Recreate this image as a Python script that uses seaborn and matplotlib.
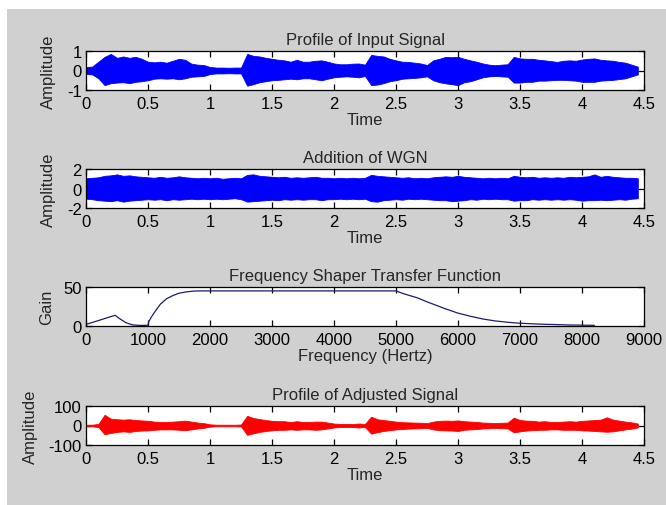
import seaborn as sns
import matplotlib.pyplot as plt
import pandas as pd
import numpy as np
from matplotlib.patches import Rectangle

# sample times of the envelopes (seconds), one value every 0.05 s
time = np.round(np.arange(0, 4.46, 0.05), 2)

# Profile of Input Signal - upper / lower envelope
input_upper = [0.18, 0.2, 0.45, 0.7, 0.85, 0.65, 0.72, 0.65, 0.7, 0.6,
               0.45, 0.42, 0.45, 0.4, 0.5, 0.6, 0.55, 0.35, 0.3, 0.28,
               0.18, 0.15, 0.15, 0.14, 0.15, 0.15, 0.85, 0.75, 0.72, 0.65,
               0.6, 0.55, 0.52, 0.45, 0.55, 0.45, 0.45, 0.5, 0.52, 0.45,
               0.36, 0.32, 0.32, 0.35, 0.36, 0.3, 0.8, 0.75, 0.72, 0.6,
               0.52, 0.45, 0.44, 0.4, 0.36, 0.28, 0.52, 0.6, 0.7, 0.68,
               0.7, 0.6, 0.52, 0.45, 0.36, 0.3, 0.27, 0.3, 0.32, 0.7,
               0.62, 0.6, 0.6, 0.55, 0.52, 0.48, 0.44, 0.5, 0.52, 0.5,
               0.56, 0.6, 0.62, 0.55, 0.52, 0.5, 0.44, 0.4, 0.3, 0.2]
input_lower = [-0.18, -0.2, -0.4, -0.75, -0.65, -0.62, -0.6, -0.65, -0.58, -0.55,
               -0.5, -0.42, -0.4, -0.42, -0.4, -0.45, -0.4, -0.32, -0.3, -0.28,
               -0.18, -0.15, -0.15, -0.14, -0.15, -0.15, -0.78, -0.7, -0.6, -0.55,
               -0.5, -0.48, -0.45, -0.42, -0.45, -0.4, -0.4, -0.45, -0.5, -0.42,
               -0.35, -0.32, -0.3, -0.32, -0.35, -0.28, -0.75, -0.72, -0.65, -0.55,
               -0.5, -0.42, -0.4, -0.38, -0.35, -0.3, -0.5, -0.6, -0.66, -0.7,
               -0.75, -0.6, -0.55, -0.45, -0.35, -0.3, -0.28, -0.3, -0.32, -0.62,
               -0.62, -0.58, -0.58, -0.52, -0.52, -0.5, -0.48, -0.48, -0.5, -0.52,
               -0.58, -0.58, -0.58, -0.52, -0.5, -0.48, -0.44, -0.4, -0.3, -0.2]

# Addition of WGN - envelope
wgn_upper = [1.05, 1.1, 1.15, 1.3, 1.35, 1.45, 1.3, 1.35, 1.25, 1.2,
             1.15, 1.1, 1.2, 1.1, 1.15, 1.25, 1.15, 1.1, 1.05, 1.1,
             1.05, 1.1, 1.0, 1.05, 1.1, 1.05, 1.4, 1.45, 1.3, 1.25,
             1.2, 1.15, 1.2, 1.1, 1.15, 1.1, 1.15, 1.2, 1.1, 1.1,
             1.05, 1.1, 1.05, 1.1, 1.05, 1.1, 1.4, 1.3, 1.25, 1.2,
             1.15, 1.1, 1.15, 1.05, 1.1, 1.05, 1.15, 1.2, 1.25, 1.2,
             1.3, 1.2, 1.15, 1.1, 1.05, 1.1, 1.05, 1.1, 1.05, 1.3,
             1.2, 1.15, 1.2, 1.1, 1.15, 1.1, 1.15, 1.1, 1.2, 1.15,
             1.2, 1.25, 1.45, 1.2, 1.3, 1.2, 1.15, 1.1, 1.1, 1.05]
wgn_lower = [-1.05, -1.1, -1.2, -1.25, -1.3, -1.2, -1.35, -1.25, -1.2, -1.15,
             -1.1, -1.15, -1.1, -1.2, -1.1, -1.15, -1.1, -1.05, -1.1, -1.05,
             -1.1, -1.05, -1.1, -1.05, -1.0, -1.1, -1.35, -1.3, -1.25, -1.2,
             -1.15, -1.2, -1.1, -1.15, -1.1, -1.15, -1.1, -1.1, -1.2, -1.1,
             -1.1, -1.05, -1.1, -1.05, -1.1, -1.05, -1.3, -1.35, -1.2, -1.15,
             -1.1, -1.15, -1.05, -1.1, -1.05, -1.1, -1.15, -1.2, -1.2, -1.3,
             -1.25, -1.2, -1.1, -1.15, -1.05, -1.1, -1.05, -1.1, -1.1, -1.25,
             -1.2, -1.2, -1.1, -1.15, -1.1, -1.15, -1.1, -1.15, -1.1, -1.15,
             -1.25, -1.2, -1.2, -1.15, -1.2, -1.15, -1.1, -1.15, -1.05, -1.0]

# Frequency Shaper Transfer Function
freq_hz = [0, 100, 200, 300, 400, 470, 550, 650, 750, 850, 950, 1000, 1010,
           1050, 1100, 1200, 1300, 1400, 1500, 1600, 1700, 1800, 2000, 3000,
           4000, 5000, 5100, 5200, 5350, 5500, 5650, 5800, 6000, 6200, 6400,
           6600, 6800, 7000, 7200, 7400, 7600, 7800, 8000, 8200]
gain = [2, 4.5, 7, 9.5, 12, 13.7, 9, 4, 1.5, 0.8, 0.8, 1, 5,
        11, 17, 28, 35, 39, 42, 43.5, 44.5, 45, 45, 45,
        45, 45, 42, 39.5, 36, 31, 26.5, 22, 16.5, 12.5, 9,
        6.5, 4.8, 3.5, 2.8, 2.2, 1.8, 1.3, 1.1, 0.8]

# Profile of Adjusted Signal - envelope
adj_upper = [4, 4, 8, 55, 35, 32, 30, 32, 28, 26,
             24, 20, 18, 18, 20, 22, 25, 20, 15, 12,
             6, 4, 4, 4, 4, 5, 50, 38, 33, 28,
             24, 22, 22, 18, 22, 18, 18, 20, 20, 15,
             10, 8, 8, 8, 10, 8, 45, 32, 28, 24,
             20, 17, 16, 15, 14, 12, 20, 24, 25, 24,
             26, 22, 20, 18, 15, 14, 12, 14, 15, 40,
             28, 25, 24, 20, 22, 18, 18, 20, 22, 20,
             24, 26, 28, 30, 42, 30, 25, 20, 16, 10]
adj_lower = [-4, -4, -8, -45, -38, -33, -30, -33, -28, -26,
             -25, -22, -20, -20, -20, -22, -24, -20, -15, -12,
             -6, -4, -4, -4, -4, -5, -48, -40, -33, -28,
             -25, -22, -22, -20, -22, -20, -20, -22, -20, -15,
             -10, -8, -8, -8, -10, -8, -42, -34, -28, -24,
             -20, -18, -16, -15, -14, -12, -20, -24, -25, -26,
             -28, -22, -20, -18, -15, -14, -12, -14, -15, -35,
             -30, -26, -24, -22, -22, -20, -20, -22, -22, -22,
             -25, -26, -28, -30, -32, -30, -25, -20, -16, -10]

time_ticks = [0, 0.5, 1, 1.5, 2, 2.5, 3, 3.5, 4, 4.5]
time_labels = ["0", "0.5", "1", "1.5", "2", "2.5", "3", "3.5", "4", "4.5"]
freq_ticks = [0, 1000, 2000, 3000, 4000, 5000, 6000, 7000, 8000, 9000]

sns.set_style("ticks")
plt.rcParams["font.family"] = ["Liberation Sans", "DejaVu Sans"]
FS = 12

fig = plt.figure(figsize=(6.66, 5.06), dpi=100, facecolor="white")
# grey MATLAB figure window (thin white strip on top/left like the screenshot)
fig.patches.append(Rectangle((7 / 666, 0), 1, 1 - 10 / 506, transform=fig.transFigure,
                             facecolor="#d0d0d0", edgecolor="none", zorder=-10))

left, width, height = 86 / 666, 558 / 666, 39 / 506
bottoms = [1 - 91 / 506, 1 - 209 / 506, 1 - 327 / 506, 1 - 446 / 506]
axes = [fig.add_axes([left, b, width, height]) for b in bottoms]


def matlab_style(ax):
    ax.set_facecolor("white")
    for s in ax.spines.values():
        s.set_visible(True)
        s.set_color("black")
        s.set_linewidth(0.9)
    ax.tick_params(direction="in", top=True, right=True, length=4, width=0.9,
                   labelsize=FS, pad=3, colors="black")
    ax.tick_params(axis="x", pad=4)


# 1 - input signal
ax = axes[0]
ax.fill_between(time, input_lower, input_upper, color="#0000ff", linewidth=0.6, edgecolor="#0000ff")
ax.set_ylim(-1, 1)
ax.set_yticks([-1, 0, 1])
ax.set_yticklabels(["-1", "0", "1"])
ax.set_title("Profile of Input Signal", fontsize=FS, pad=5)
ax.set_ylabel("Amplitude", fontsize=FS, va="center")
ax.yaxis.set_label_coords(-0.067, 0.5)

# 2 - with white gaussian noise
ax = axes[1]
ax.fill_between(time, wgn_lower, wgn_upper, color="#0000ff", linewidth=0.6, edgecolor="#0000ff")
ax.set_ylim(-2, 2)
ax.set_yticks([-2, 0, 2])
ax.set_yticklabels(["-2", "0", "2"])
ax.set_title("Addition of WGN", fontsize=FS, pad=5)
ax.set_ylabel("Amplitude", fontsize=FS, va="center")
ax.yaxis.set_label_coords(-0.067, 0.5)

# 3 - transfer function
ax = axes[2]
tf = pd.DataFrame({"Frequency": freq_hz, "Gain": gain})
sns.lineplot(data=tf, x="Frequency", y="Gain", ax=ax, color="#1c1c70", linewidth=0.9)
ax.set_xlim(0, 9000)
ax.set_xticks(freq_ticks)
ax.set_xticklabels([str(f) for f in freq_ticks])
ax.set_ylim(0, 50)
ax.set_yticks([0, 50])
ax.set_title("Frequency Shaper Transfer Function", fontsize=FS, pad=5)
ax.set_xlabel("Frequency (Hertz)", fontsize=FS, labelpad=1)
ax.set_ylabel("Gain", fontsize=FS, va="center")
ax.yaxis.set_label_coords(-0.07, 0.5)

# 4 - adjusted signal
ax = axes[3]
ax.fill_between(time, adj_lower, adj_upper, color="#ff0000", linewidth=0.6, edgecolor="#ff0000")
ax.set_ylim(-100, 100)
ax.set_yticks([-100, 0, 100])
ax.set_yticklabels(["-100", "0", "100"])
ax.set_title("Profile of Adjusted Signal", fontsize=FS, pad=5)
ax.set_ylabel("Amplitude", fontsize=FS, va="center")
ax.yaxis.set_label_coords(-0.1, 0.5)

for i in [0, 1, 3]:
    axes[i].set_xlim(0, 4.5)
    axes[i].set_xticks(time_ticks)
    axes[i].set_xticklabels(time_labels)
    axes[i].set_xlabel("Time", fontsize=FS, labelpad=1)

for ax in axes:
    matlab_style(ax)

fig.savefig("out.png", dpi=100, facecolor=fig.get_facecolor())
